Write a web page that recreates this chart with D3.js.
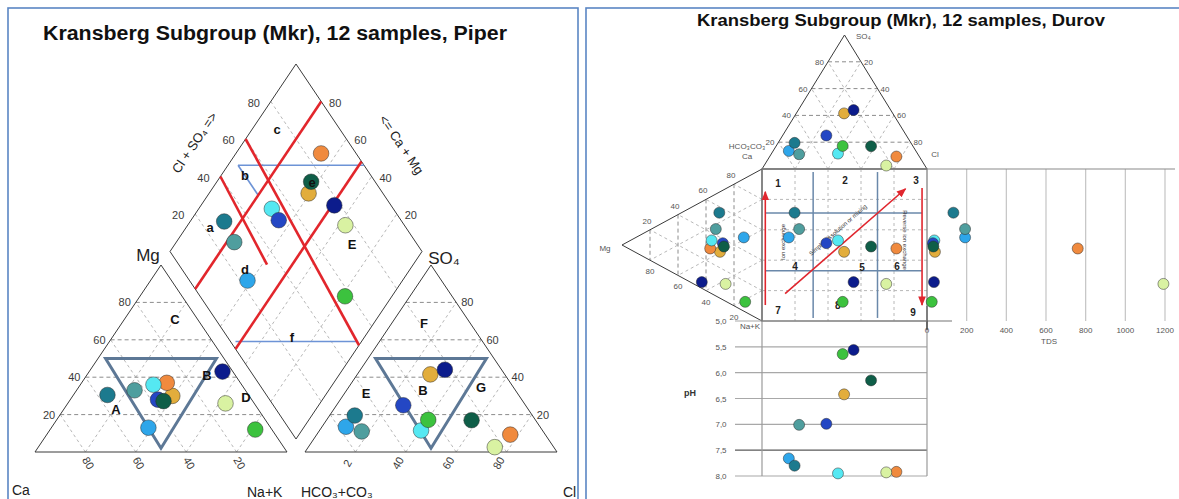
<!DOCTYPE html>
<html>
<head>
<meta charset="utf-8">
<script src="https://cdn.jsdelivr.net/npm/d3@7"></script>
<style>
  html, body { margin: 0; padding: 0; background: #fff; }
  svg { display: block; font-family: "Liberation Sans", Arial, sans-serif; }
  .grid-major { fill: none; stroke: #8c8c8c; stroke-width: 1; stroke-dasharray: 4 3; }
  .grid-minor { fill: none; stroke: #b8b8b8; stroke-width: 1; stroke-dasharray: 3 3; }
  .outline { fill: none; stroke: #3a3a3a; stroke-width: 1; }
  .tick { fill: #3a3a3a; font-size: 11px; }
  .dtick { fill: #555; font-size: 8px; }
  .field { fill: #111; font-size: 13px; font-weight: bold; }
</style>
</head>
<body>
<svg id="chart" width="1179" height="499"></svg>
<script>
// ---- Water chemistry of the samples (meq %), TDS (mg/l) and pH ----
const sampleColors = ["#2ea6ea", "#1c7a8e", "#4f9e9e", "#e2ad3c", "#f08a3e", "#55e8f2",
                      "#2447c4", "#0f5e48", "#0c1c8c", "#d9f2a2", "#3cc23e"];
const ca   = [48.5, 56.0, 44.0, 30.5, 29.2, 35.0, 37.2, 35.4,  4.1, 11.4,  6.6];
const mg   = [13.0, 30.5, 33.0, 30.0, 37.0, 36.0, 28.0, 27.2, 43.0, 26.0, 12.0];
const nak  = [38.5, 13.5, 23.0, 39.5, 33.8, 29.0, 34.8, 37.4, 52.9, 62.6, 81.4];
const hco3 = [77.0, 70.5, 72.0, 29.5, 13.9, 48.2, 48.5, 25.4, 22.5, 23.4, 42.5];
const so4  = [13.5, 19.5, 11.0, 41.5,  9.3, 11.5, 25.0, 17.0, 44.0,  2.6, 17.2];
const cl   = [ 9.5, 10.0, 17.0, 29.0, 76.8, 40.3, 26.5, 57.6, 33.5, 74.0, 40.3];
const tds  = [192, 133, 192, 40, 760, 37, 30, 32, 35, 1192, 24];
const ph   = [7.66, 7.80, 7.01, 6.42, 7.92, 7.95, 6.99, 6.15, 5.56, 7.93, 5.64];

// ---- Axis ticks ----
const gridSteps = [20, 40, 60, 80];
const anionBaseLabels = ["2", "40", "60", "80"];
const tdsTicks = [0, 200, 400, 600, 800, 1000, 1200];
const phTicks = [5.0, 5.5, 6.0, 6.5, 7.0, 7.5, 8.0];

// ---- Classification fields ----
const hillTriangle = [[47, 50, 3], [3, 50, 47], [49, 2, 49]];          // central field B
const diamondRedLines = [[[0, 20], [100, 20]], [[0, 52], [100, 52]],
                         [[60, 0], [50, 100]], [[40, 0], [35, 42]]];   // [Cl+SO4, Na+K]
const diamondBlueLines = [[[50, 4], [100, 54]], [[50, 4], [50, 20]], [[2, 50], [50, 98]]];
const durovDividersX = [31, 70];
const durovDividersY = [29, 67];

const svg = d3.select("#chart");
const line = d3.line();
const idx = d3.range(sampleColors.length);

// panel frames
svg.append("rect").attr("x", 8).attr("y", 8).attr("width", 570).attr("height", 500)
  .attr("fill", "none").attr("stroke", "#5a86c4").attr("stroke-width", 1.6);
svg.append("rect").attr("x", 586).attr("y", 8).attr("width", 600).attr("height", 500)
  .attr("fill", "none").attr("stroke", "#5a86c4").attr("stroke-width", 1.6);

function drawTriangle(g, pt, majorClass, minorClass) {
  gridSteps.forEach(k => {
    g.append("path").attr("class", minorClass).attr("d", line([pt(100 - k, 0, k), pt(0, 100 - k, k)]));
    g.append("path").attr("class", minorClass).attr("d", line([pt(k, 0, 100 - k), pt(k, 100 - k, 0)]));
    g.append("path").attr("class", majorClass).attr("d", line([pt(100 - k, k, 0), pt(0, k, 100 - k)]));
  });
  g.append("path").attr("class", "outline")
    .attr("d", line([pt(100, 0, 0), pt(0, 100, 0), pt(0, 0, 100)]) + "Z");
}

function dots(g, points, r) {
  g.selectAll(null).data(idx).join("circle")
    .attr("cx", i => points(i)[0]).attr("cy", i => points(i)[1]).attr("r", r)
    .attr("fill", i => sampleColors[i])
    .attr("stroke", "#2a2a2a").attr("stroke-opacity", 0.55).attr("stroke-width", 0.9);
}

function text(g, x, y, str, cls, extra) {
  const t = g.append("text").attr("x", x).attr("y", y).text(str);
  if (cls) t.attr("class", cls);
  if (extra) Object.entries(extra).forEach(([k, v]) => t.attr(k, v));
  return t;
}

// =================== PIPER ===================
const piper = svg.append("g");
text(piper, 275, 40, "Kransberg Subgroup (Mkr), 12 samples, Piper", null,
  { "text-anchor": "middle", "font-size": 20, "font-weight": "bold", fill: "#111",
    textLength: 464, lengthAdjust: "spacingAndGlyphs" });

const catX = d3.scaleLinear().domain([0, 100]).range([35, 287]);
const triY = d3.scaleLinear().domain([0, 100]).range([452, 265]);
const anX = d3.scaleLinear().domain([0, 100]).range([305, 557]);
const dmX = d3.scaleLinear().domain([0, 200]).range([170, 422]);
const dmY = d3.scaleLinear().domain([-100, 100]).range([64, 439]);

const catPt = (l, t, r) => [catX(r + t / 2), triY(t)];      // Ca, Mg, Na+K
const anPt = (l, t, r) => [anX(r + t / 2), triY(t)];        // HCO3+CO3, SO4, Cl
const dmPt = (a, b) => [dmX(a + b), dmY(b - a)];            // Cl+SO4, Na+K

drawTriangle(piper, catPt, "grid-major", "grid-minor");
drawTriangle(piper, anPt, "grid-major", "grid-minor");

// diamond grid
gridSteps.forEach(k => {
  piper.append("path").attr("class", "grid-minor").attr("d", line([dmPt(k, 0), dmPt(k, 100)]));
  piper.append("path").attr("class", "grid-minor").attr("d", line([dmPt(0, k), dmPt(100, k)]));
});
piper.append("path").attr("class", "outline")
  .attr("d", line([dmPt(0, 0), dmPt(100, 0), dmPt(100, 100), dmPt(0, 100)]) + "Z");

// field boundaries
diamondBlueLines.forEach(s => piper.append("path").attr("d", line(s.map(p => dmPt(p[0], p[1]))))
  .attr("fill", "none").attr("stroke", "#6d93d6").attr("stroke-width", 1.6));
diamondRedLines.forEach(s => piper.append("path").attr("d", line(s.map(p => dmPt(p[0], p[1]))))
  .attr("fill", "none").attr("stroke", "#e2262c").attr("stroke-width", 2.6));
[catPt, anPt].forEach(pt => piper.append("path")
  .attr("d", line(hillTriangle.map(v => pt(v[0], v[1], v[2]))) + "Z")
  .attr("fill", "none").attr("stroke", "#5d7896").attr("stroke-width", 3));

// tick labels
gridSteps.forEach((k, j) => {
  const l = catPt(100 - k, k, 0);
  text(piper, l[0] - 5, l[1] + 4, k, "tick", { "text-anchor": "end" });
  const r = anPt(0, k, 100 - k);
  text(piper, r[0] + 5, r[1] + 4, k, "tick", { "text-anchor": "start" });
  const b = catPt(k, 0, 100 - k);
  text(piper, b[0] + 3, 467, k, "tick",
    { "text-anchor": "middle", transform: `rotate(60 ${b[0] + 3} 463)` });
  const ab = anPt(100 - k, 0, k);
  text(piper, ab[0] - 8, 467, anionBaseLabels[j], "tick",
    { "text-anchor": "middle", transform: `rotate(-60 ${ab[0] - 8} 463)` });
  const dl = dmPt(k, 0);
  text(piper, dl[0] - 17, dl[1] + 5, k, "tick", { "text-anchor": "middle" });
  const dr = dmPt(100, 100 - k);
  text(piper, dr[0] + 14, dr[1] + 5, k, "tick", { "text-anchor": "middle" });
});

// axis names
text(piper, 195, 147, "Cl + SO\u2084 =>", null,
  { "text-anchor": "middle", "font-size": 13, fill: "#222", transform: "rotate(-56 195 143)" });
text(piper, 401, 149, "<= Ca + Mg", null,
  { "text-anchor": "middle", "font-size": 13, fill: "#222", transform: "rotate(56 401 145)" });
text(piper, 148, 261, "Mg", null, { "text-anchor": "middle", "font-size": 17, fill: "#222" });
text(piper, 444, 264, "SO\u2084", null, { "text-anchor": "middle", "font-size": 17, fill: "#222" });
text(piper, 12, 495, "Ca", null, { "font-size": 14, fill: "#222" });
text(piper, 247, 497, "Na+K", null, { "font-size": 14, fill: "#222" });
text(piper, 301, 497, "HCO\u2083+CO\u2083", null, { "font-size": 14, fill: "#222" });
text(piper, 563, 497, "Cl", null, { "font-size": 14, fill: "#222" });

// samples
dots(piper, i => catPt(ca[i], mg[i], nak[i]), 7.8);
dots(piper, i => anPt(hco3[i], so4[i], cl[i]), 7.8);
dots(piper, i => dmPt(so4[i] + cl[i], nak[i]), 7.8);

// field letters
[["C", 175, 324], ["A", 116, 414], ["B", 207, 380], ["D", 246, 402],
 ["F", 424, 328], ["E", 366, 398], ["B", 423, 395], ["G", 481, 392],
 ["a", 210, 232], ["b", 245, 180], ["c", 277, 134], ["d", 245, 274],
 ["e", 312, 187], ["E", 352, 249], ["f", 292, 342]]
  .forEach(d => text(piper, d[1], d[2], d[0], "field", { "text-anchor": "middle" }));

// =================== DUROV ===================
const durov = svg.append("g");
text(durov, 901, 26, "Kransberg  Subgroup (Mkr), 12 samples, Durov", null,
  { "text-anchor": "middle", "font-size": 17, "font-weight": "bold", fill: "#111",
    textLength: 408, lengthAdjust: "spacingAndGlyphs" });

const sqX = d3.scaleLinear().domain([0, 100]).range([762, 927]);
const topY = d3.scaleLinear().domain([0, 100]).range([169, 35]);
const lftX = d3.scaleLinear().domain([0, 100]).range([762, 622]);
const sqY = d3.scaleLinear().domain([0, 100]).range([169, 321]);
const tdsX = d3.scaleLinear().domain([0, 1200]).range([927, 1165]);
const phY = d3.scaleLinear().domain([5, 8]).range([321, 476]);

const topPt = (l, t, r) => [sqX(r + t / 2), topY(t)];     // HCO3+CO3, SO4, Cl
const leftPt = (l, t, r) => [lftX(t), sqY(r + t / 2)];    // Ca, Mg, Na+K
const sqPt = i => [sqX(cl[i] + so4[i] / 2), sqY(nak[i] + mg[i] / 2)];

drawTriangle(durov, topPt, "grid-major", "grid-minor");
drawTriangle(durov, leftPt, "grid-major", "grid-minor");

// square grid
gridSteps.forEach(k => {
  durov.append("path").attr("class", "grid-minor").attr("d", line([[sqX(k), sqY(0)], [sqX(k), sqY(100)]]));
  durov.append("path").attr("class", "grid-minor").attr("d", line([[sqX(0), sqY(k)], [sqX(100), sqY(k)]]));
});

// TDS panel
tdsTicks.slice(1).forEach(v => durov.append("line")
  .attr("x1", tdsX(v)).attr("x2", tdsX(v)).attr("y1", sqY(0)).attr("y2", sqY(100))
  .attr("stroke", "#c4c4c4").attr("stroke-width", 1.2));
durov.append("line").attr("x1", sqX(0)).attr("x2", 1175).attr("y1", sqY(0)).attr("y2", sqY(0))
  .attr("stroke", "#8a8a8a").attr("stroke-width", 1.2);
tdsTicks.forEach(v => text(durov, tdsX(v), 333, v, "dtick", { "text-anchor": "middle" }));
text(durov, 1049, 344, "TDS", "dtick", { "text-anchor": "middle" });

// pH panel
phTicks.forEach(v => durov.append("line")
  .attr("x1", 735).attr("x2", sqX(100)).attr("y1", phY(v)).attr("y2", phY(v))
  .attr("stroke", v === 7.5 ? "#5a5a5a" : "#a8a8a8").attr("stroke-width", 1.2));
phTicks.forEach(v => text(durov, 721, phY(v) + 3, d3.format(".1f")(v).replace(".", ","), "dtick",
  { "text-anchor": "middle" }));
text(durov, 690, 396, "pH", null, { "text-anchor": "middle", "font-size": 9, "font-weight": "bold", fill: "#333" });
[sqX(0), sqX(100)].forEach(x => durov.append("line")
  .attr("x1", x).attr("x2", x).attr("y1", phY(5)).attr("y2", phY(8))
  .attr("stroke", "#9a9a9a").attr("stroke-width", 1.2));
durov.append("line").attr("x1", sqX(100)).attr("x2", 952).attr("y1", sqY(100)).attr("y2", sqY(100))
  .attr("stroke", "#8a8a8a").attr("stroke-width", 1.2);
durov.append("line").attr("x1", sqX(100)).attr("x2", sqX(100)).attr("y1", 306).attr("y2", 330)
  .attr("stroke", "#111").attr("stroke-width", 1);

// square frame
durov.append("rect").attr("x", sqX(0)).attr("y", sqY(0))
  .attr("width", sqX(100) - sqX(0)).attr("height", sqY(100) - sqY(0))
  .attr("fill", "none").attr("stroke", "#7a7a7a").attr("stroke-width", 1.2);

// field dividers
durovDividersX.forEach(v => durov.append("line").attr("x1", sqX(v)).attr("x2", sqX(v))
  .attr("y1", sqY(2)).attr("y2", sqY(98)).attr("stroke", "#6a88aa").attr("stroke-width", 1.5));
durovDividersY.forEach(v => durov.append("line").attr("x1", sqX(2)).attr("x2", sqX(97))
  .attr("y1", sqY(v)).attr("y2", sqY(v)).attr("stroke", "#6a88aa").attr("stroke-width", 1.5));

// process arrows
const defs = svg.append("defs");
defs.append("marker").attr("id", "arrowRed").attr("viewBox", "0 0 10 10")
  .attr("refX", 9).attr("refY", 5).attr("markerWidth", 6).attr("markerHeight", 6)
  .attr("orient", "auto").append("path").attr("d", "M0,1 L10,5 L0,9 Z").attr("fill", "#e0262e");
[[[2, 89.5], [2, 15]], [[14, 82], [87, 13]], [[97, 12.5], [97, 89.5]]].forEach(s =>
  durov.append("line").attr("x1", sqX(s[0][0])).attr("y1", sqY(s[0][1]))
    .attr("x2", sqX(s[1][0])).attr("y2", sqY(s[1][1]))
    .attr("stroke", "#e0262e").attr("stroke-width", 1.6).attr("marker-end", "url(#arrowRed)"));
text(durov, 783, 244, "Ion exchange", null,
  { "text-anchor": "middle", "font-size": 6, fill: "#333", transform: "rotate(-90 783 242)" });
text(durov, 838, 232, "Simple dissolution or mixing", null,
  { "text-anchor": "middle", "font-size": 6, fill: "#333", transform: "rotate(-41 838 230)" });
text(durov, 905, 242, "Reverse ion exchange", null,
  { "text-anchor": "middle", "font-size": 6, fill: "#333", transform: "rotate(90 905 240)" });

// field numbers
[["1", 9.7, 9.2], ["2", 50.3, 7.2], ["3", 93.3, 7.2], ["4", 20, 63.5], ["5", 60.6, 64.5],
 ["6", 81.8, 63.8], ["7", 9.7, 92.8], ["8", 46, 89.5], ["9", 91.5, 94]]
  .forEach(d => text(durov, sqX(d[1]), sqY(d[2]) + 4, d[0], null,
    { "text-anchor": "middle", "font-size": 10, "font-weight": "bold", fill: "#222" }));

// triangle tick labels
gridSteps.forEach(k => {
  const tl = topPt(100 - k, k, 0);
  text(durov, tl[0] - 4, tl[1] + 3, k, "dtick", { "text-anchor": "end" });
  const tr = topPt(0, k, 100 - k);
  text(durov, tr[0] + 3, tr[1] + 3, 100 - k, "dtick", { "text-anchor": "start" });
  const lu = leftPt(k, 100 - k, 0);
  text(durov, lu[0] - 3, lu[1] - 6, k, "dtick", { "text-anchor": "middle" });
  const ll = leftPt(0, k, 100 - k);
  text(durov, ll[0], ll[1] + 14, k, "dtick", { "text-anchor": "middle" });
});
text(durov, 856, 39, "SO\u2084", "dtick", { "text-anchor": "start", "font-size": 6.5 });
text(durov, 747, 149, "HCO\u2083CO\u2083", "dtick", { "text-anchor": "middle" });
text(durov, 747, 159, "Ca", "dtick", { "text-anchor": "middle" });
text(durov, 935, 157, "Cl", "dtick", { "text-anchor": "middle", "font-size": 9 });
text(durov, 605, 251, "Mg", "dtick", { "text-anchor": "middle", "font-size": 9 });
text(durov, 750, 329, "Na+K", "dtick", { "text-anchor": "middle", "font-size": 9 });

// samples
dots(durov, i => topPt(hco3[i], so4[i], cl[i]), 5.5);
dots(durov, i => leftPt(ca[i], mg[i], nak[i]), 5.5);
dots(durov, sqPt, 5.5);
dots(durov, i => [tdsX(tds[i]), sqPt(i)[1]], 5.5);
dots(durov, i => [sqPt(i)[0], phY(ph[i])], 5.5);
</script>
</body>
</html>
